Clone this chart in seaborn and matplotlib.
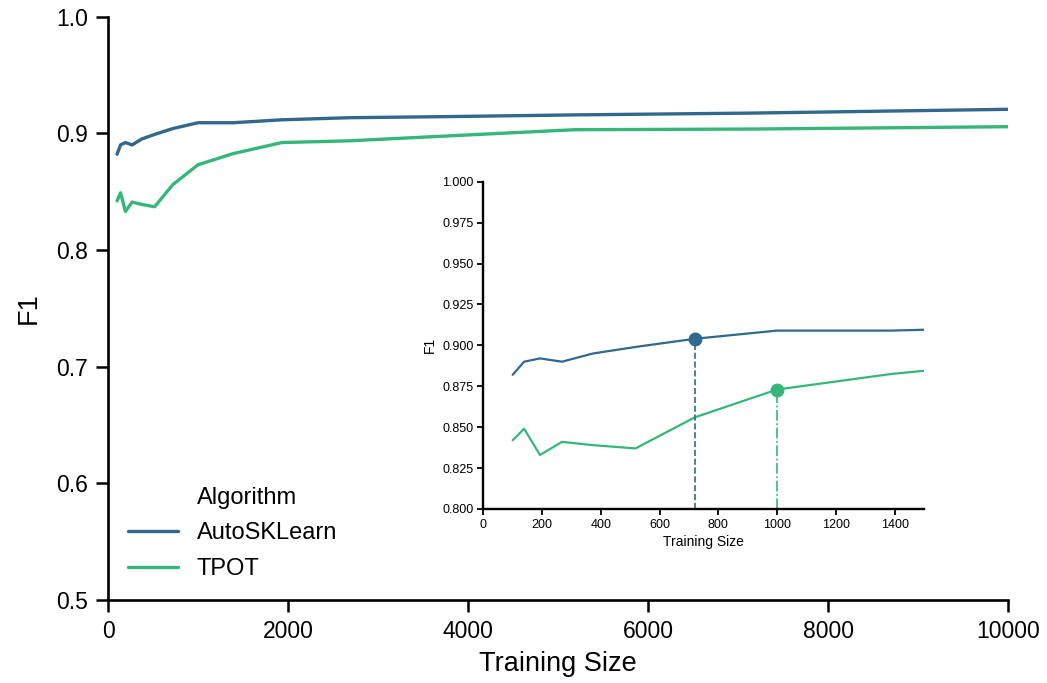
import numpy as np
import pandas as pd
import seaborn as sns
import matplotlib
matplotlib.use("Agg")
import matplotlib.pyplot as plt
from matplotlib.lines import Line2D

training_size = [100, 139, 193, 268, 373, 518, 720, 1000, 1389, 1931, 2683, 3728, 5179, 7197, 10000]
autosklearn_f1 = [0.882, 0.890, 0.892, 0.890, 0.895, 0.899, 0.904, 0.909, 0.909, 0.9115, 0.9133, 0.9142, 0.9157, 0.9173, 0.9205]
tpot_f1 = [0.842, 0.849, 0.833, 0.841, 0.839, 0.837, 0.856, 0.873, 0.8825, 0.892, 0.8935, 0.8975, 0.903, 0.9036, 0.9056]
algorithms = ["AutoSKLearn", "TPOT"]
highlight_x = [720, 1000]
highlight_y = [0.904, 0.873]

df = pd.DataFrame({
    "Training Size": training_size * 2,
    "F1": autosklearn_f1 + tpot_f1,
    "Algorithm": [algorithms[0]] * len(training_size) + [algorithms[1]] * len(training_size),
})

sns.set_theme(style="ticks")
plt.rcParams["font.family"] = ["Liberation Sans", "DejaVu Sans"]
for k in ["text.color", "axes.labelcolor", "xtick.color", "ytick.color", "axes.edgecolor"]:
    plt.rcParams[k] = "black"
palette = sns.color_palette("viridis", 2)

fig = plt.figure(figsize=(10.47, 6.83), dpi=100)
ax = fig.add_axes([0.1032, 0.1215, 0.8596, 0.8543])
sns.lineplot(data=df, x="Training Size", y="F1", hue="Algorithm", palette=palette,
             linewidth=2.4, ax=ax)
ax.set_xlim(0, 10000)
ax.set_ylim(0.5, 1.0)
ax.set_xticks([0, 2000, 4000, 6000, 8000, 10000])
ax.set_yticks([0.5, 0.6, 0.7, 0.8, 0.9, 1.0])
ax.tick_params(labelsize=16.5, length=8.5, width=1.8, pad=6)
for s in ["left", "bottom"]:
    ax.spines[s].set_linewidth(1.9)
sns.despine(ax=ax)
ax.set_xlabel("Training Size", fontsize=19.5, labelpad=6)
ax.set_ylabel("F1", fontsize=19.5, labelpad=10)

handles, labels = ax.get_legend_handles_labels()
title_handle = Line2D([], [], linestyle="none", marker=None)
leg = ax.legend([title_handle] + handles, ["Algorithm"] + labels,
                loc="lower left", bbox_to_anchor=(0.0, 0.0),
                frameon=False, fontsize=17, handlelength=2.1,
                borderaxespad=0.45, labelspacing=0.58, handletextpad=0.8)
for line in leg.get_lines():
    line.set_linewidth(2.4)

# inset
axin = fig.add_axes([0.4616, 0.2548, 0.4209, 0.4792])
sns.lineplot(data=df, x="Training Size", y="F1", hue="Algorithm", palette=palette,
             linewidth=1.6, ax=axin, legend=False)
axin.set_xlim(0, 1500)
axin.set_ylim(0.8, 1.0)
axin.set_xticks([0, 200, 400, 600, 800, 1000, 1200, 1400])
axin.set_yticks(np.arange(0.8, 1.0001, 0.025))
axin.set_yticklabels([f"{v:.3f}" for v in np.arange(0.8, 1.0001, 0.025)])
axin.tick_params(labelsize=9, length=4, width=1.3, pad=3)
for s in ["left", "bottom"]:
    axin.spines[s].set_linewidth(1.7)
sns.despine(ax=axin)
axin.set_xlabel("Training Size", fontsize=10, labelpad=3)
axin.set_ylabel("F1", fontsize=10)
styles = ["--", "-."]
for i in range(2):
    axin.vlines(highlight_x[i], 0.8, highlight_y[i], colors=[palette[i]],
                linestyles=styles[i], linewidth=1.2)
    axin.plot([highlight_x[i]], [highlight_y[i]], "o", color=palette[i], markersize=9)

fig.savefig("out.png", dpi=100)
